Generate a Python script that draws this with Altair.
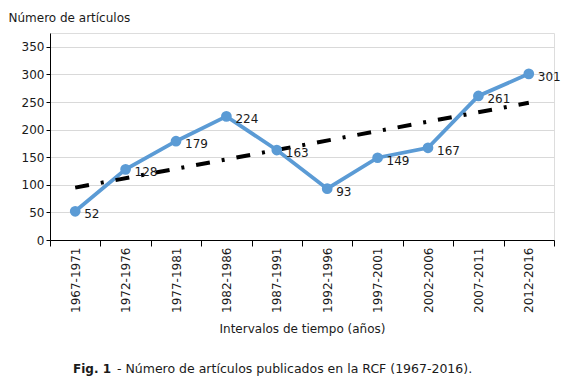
import altair as alt
import pandas as pd

periodos = ["1967-1971", "1972-1976", "1977-1981", "1982-1986", "1987-1991",
            "1992-1996", "1997-2001", "2002-2006", "2007-2011", "2012-2016"]
articulos = [52, 128, 179, 224, 163, 93, 149, 167, 261, 301]
y_ticks = [0, 50, 100, 150, 200, 250, 300, 350]
y_title = "Número de artículos"
x_title = "Intervalos de tiempo (años)"
caption_bold = "Fig. 1"
caption_rest = "- Número de artículos publicados en la RCF (1967-2016)."

df = pd.DataFrame({"periodo": periodos, "idx": list(range(len(periodos))), "n": articulos})

FONT = "DejaVu Sans"
BLUE = "#5B9BD5"
TXT = "#1a1a1a"

x_enc = alt.X(
    "periodo:N", sort=periodos,
    scale=alt.Scale(paddingInner=0, paddingOuter=0),
    axis=alt.Axis(title=x_title, labelAngle=-90, tickBand="extent", tickSize=6,
                  labelPadding=1, domainColor="black", tickColor="black",
                  labelFont=FONT, labelFontSize=12, labelColor=TXT,
                  titleFont=FONT, titleFontSize=12, titleFontWeight="normal",
                  titleColor=TXT, titleY=88, titleBaseline="middle", grid=False),
)
y_enc = alt.Y(
    "n:Q", scale=alt.Scale(domain=[0, 375], nice=False),
    axis=alt.Axis(values=y_ticks, title=y_title, titleAngle=0, titleX=-42, titleY=-16,
                  titleAlign="left", titleBaseline="middle", titleFont=FONT,
                  titleFontSize=12, titleFontWeight="normal", titleColor=TXT,
                  tickSize=4, labelPadding=2, labelFont=FONT, labelFontSize=12,
                  labelColor=TXT, gridColor="#d9d9d9", domainColor="black",
                  tickColor="black"),
)

base = alt.Chart(df).encode(x=x_enc, y=y_enc)

line = base.mark_line(color=BLUE, strokeWidth=3.8)
points = base.mark_point(filled=True, color=BLUE, size=115, opacity=1)
labels = base.mark_text(align="left", baseline="middle", dx=9, dy=3,
                        font=FONT, fontSize=12, color=TXT).encode(text="n:Q")

trend = alt.Chart(df).transform_regression("idx", "n").transform_lookup(
    lookup="idx", from_=alt.LookupData(data=df, key="idx", fields=["periodo"])
).mark_line(color="black", strokeWidth=4, strokeDash=[14, 12, 3, 12]).encode(x=x_enc, y=y_enc)

cap1 = alt.Chart(pd.DataFrame({"t": [caption_bold]})).mark_text(
    align="left", baseline="middle", font=FONT, fontSize=12, fontWeight="bold", color=TXT
).encode(x=alt.value(23), y=alt.value(336), text="t:N")
cap2 = alt.Chart(pd.DataFrame({"t": [caption_rest]})).mark_text(
    align="left", baseline="middle", font=FONT, fontSize=12.5, color=TXT
).encode(x=alt.value(67), y=alt.value(336), text="t:N")

chart = alt.layer(line, trend, points, labels, cap1, cap2).properties(
    width=504, height=207,
    autosize=alt.AutoSizeParams(type="none"),
    padding={"left": 42, "top": 25, "right": 22, "bottom": 140},
).configure_view(stroke=None).configure(background="white")

chart.save("out.html", embed_options={"renderer": "svg", "actions": False})
